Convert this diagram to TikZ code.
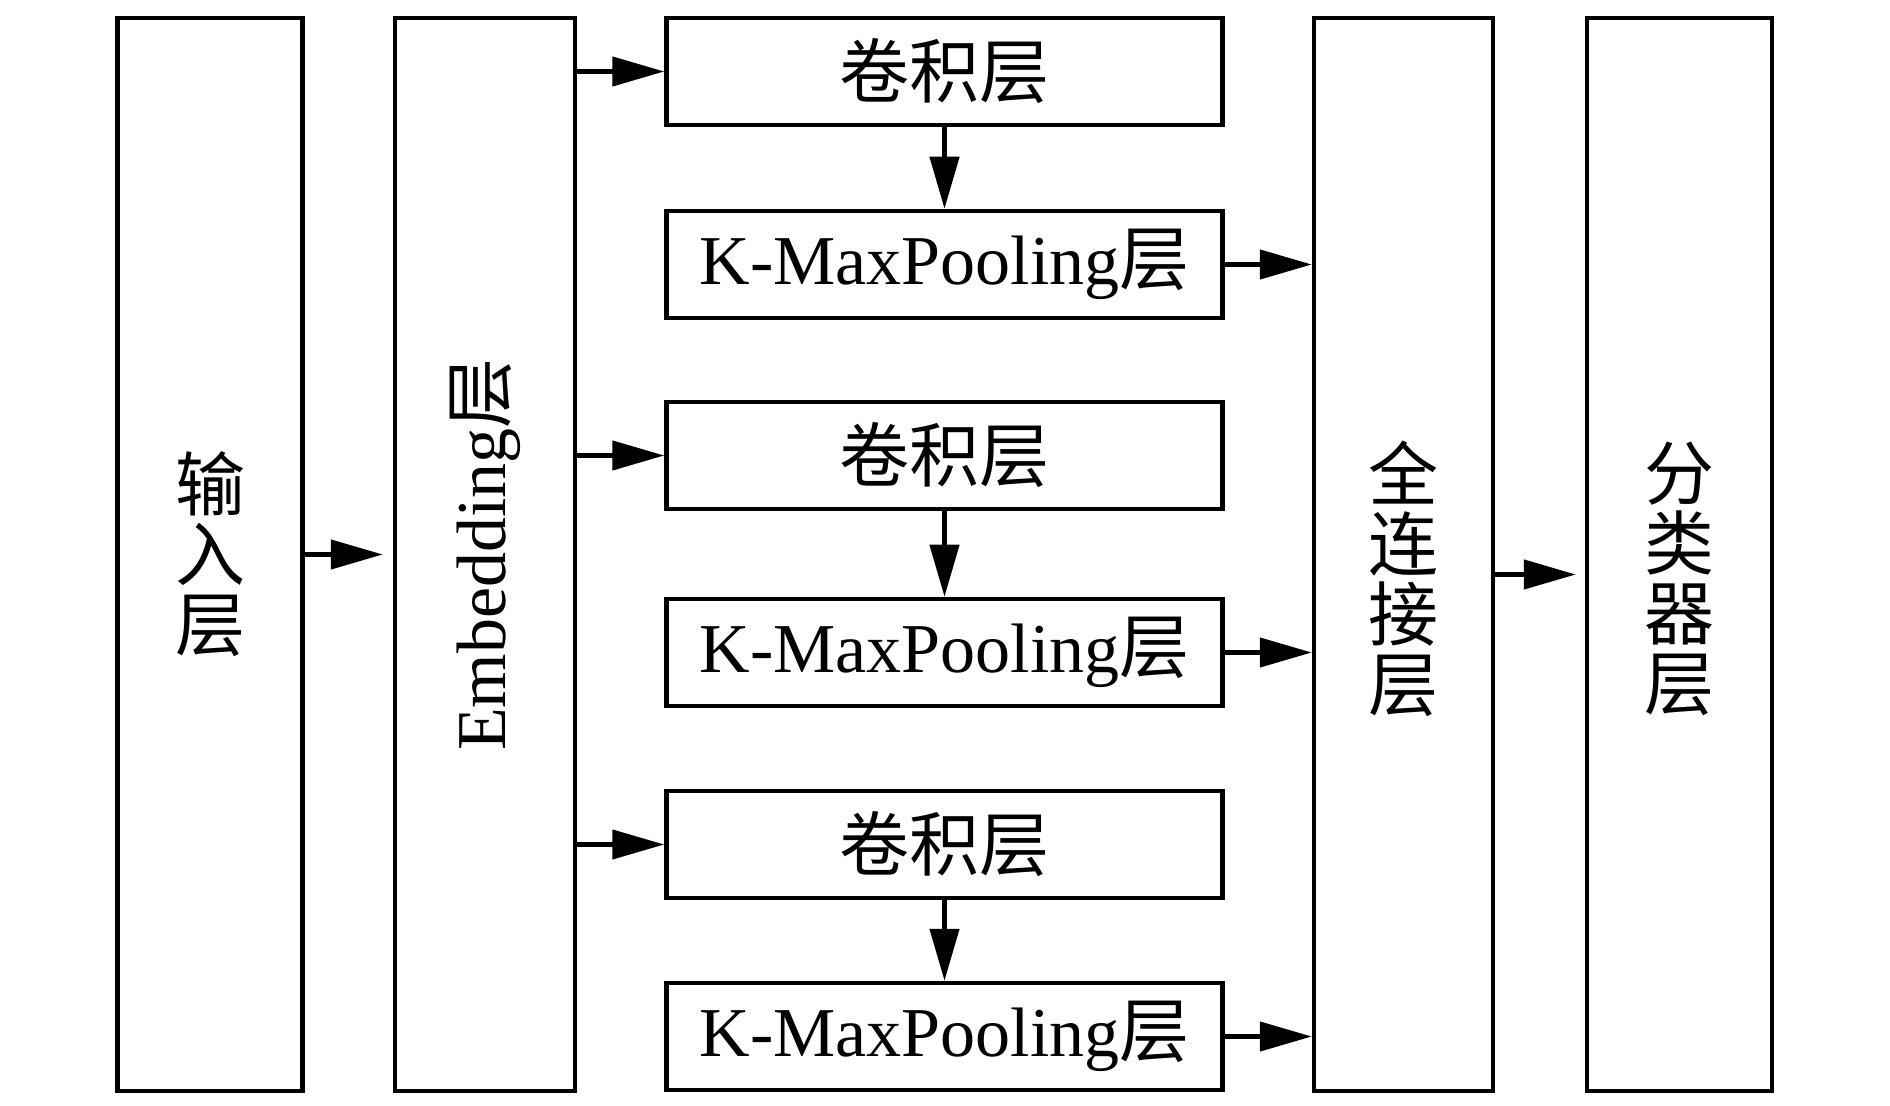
\documentclass[tikz,border=0pt]{standalone}
\usepackage{fontspec}
\usepackage{graphicx}
\setmainfont{Liberation Serif}
\newfontfamily\cjk{Noto Sans CJK SC}
\usetikzlibrary{arrows.meta}
\tikzset{>={Triangle[length=26pt,width=14.5pt]},
  layer/.style={draw,line width=2.25pt,inner sep=0pt,align=center,
    font=\fontsize{35}{35}\selectfont},
  tall/.style={layer,minimum width=#1,minimum height=536.5pt},
  wide/.style={layer,minimum width=278pt,minimum height=53.5pt},
  cjktext/.style={font=\fontsize{35}{35}\selectfont\cjk},
  arr/.style={->,line width=2.25pt}}

\begin{document}
\begin{tikzpicture}[x=0.5pt,y=-0.5pt]

  \useasboundingbox (0,0) rectangle (1890,1106);

  % tall columns
  \node [tall=92.5pt,cjktext] (inp) at (210,554.5) {输\\入\\层};
  \node [tall=90pt] (emb) at (485,554.5)
    {\rotatebox{90}{Embedding{\cjk 层}}};
  \node [tall=89.5pt,label={[cjktext,align=center,yshift=-12pt]center:全\\连\\接\\层}]
    (fc) at (1403.5,554.5) {};
  \node [tall=92.5pt,label={[cjktext,align=center,yshift=-12pt]center:分\\类\\器\\层}]
    (cls) at (1679.5,554.5) {};

  % middle boxes
  \node [wide,cjktext] (conv1) at (944.5,71.5) {卷积层};
  \node [wide] (kmax1) at (944.5,264.5) {K-MaxPooling{\cjk 层}};
  \node [wide,cjktext] (conv2) at (944.5,455.5) {卷积层};
  \node [wide] (kmax2) at (944.5,652.5) {K-MaxPooling{\cjk 层}};
  \node [wide,cjktext] (conv3) at (944.5,844.5) {卷积层};
  \node [wide] (kmax3) at (944.5,1036.5) {K-MaxPooling{\cjk 层}};

  \draw [arr,shorten >=5pt] (inp) -- (emb);

  \draw [arr] (emb.east |- conv1) -- (conv1);
  \draw [arr] (emb.east |- conv2) -- (conv2);
  \draw [arr] (emb.east |- conv3) -- (conv3);

  \draw [arr] (conv1) -- (kmax1);
  \draw [arr] (conv2) -- (kmax2);
  \draw [arr] (conv3) -- (kmax3);

  \draw [arr] (kmax1) -- (kmax1 -| fc.west);
  \draw [arr] (kmax2) -- (kmax2 -| fc.west);
  \draw [arr] (kmax3) -- (kmax3 -| fc.west);

  \draw [arr,shorten >=4.5pt] ([yshift=-10pt]fc.east) -- ([yshift=-10pt]cls.west);

\end{tikzpicture}
\end{document}
